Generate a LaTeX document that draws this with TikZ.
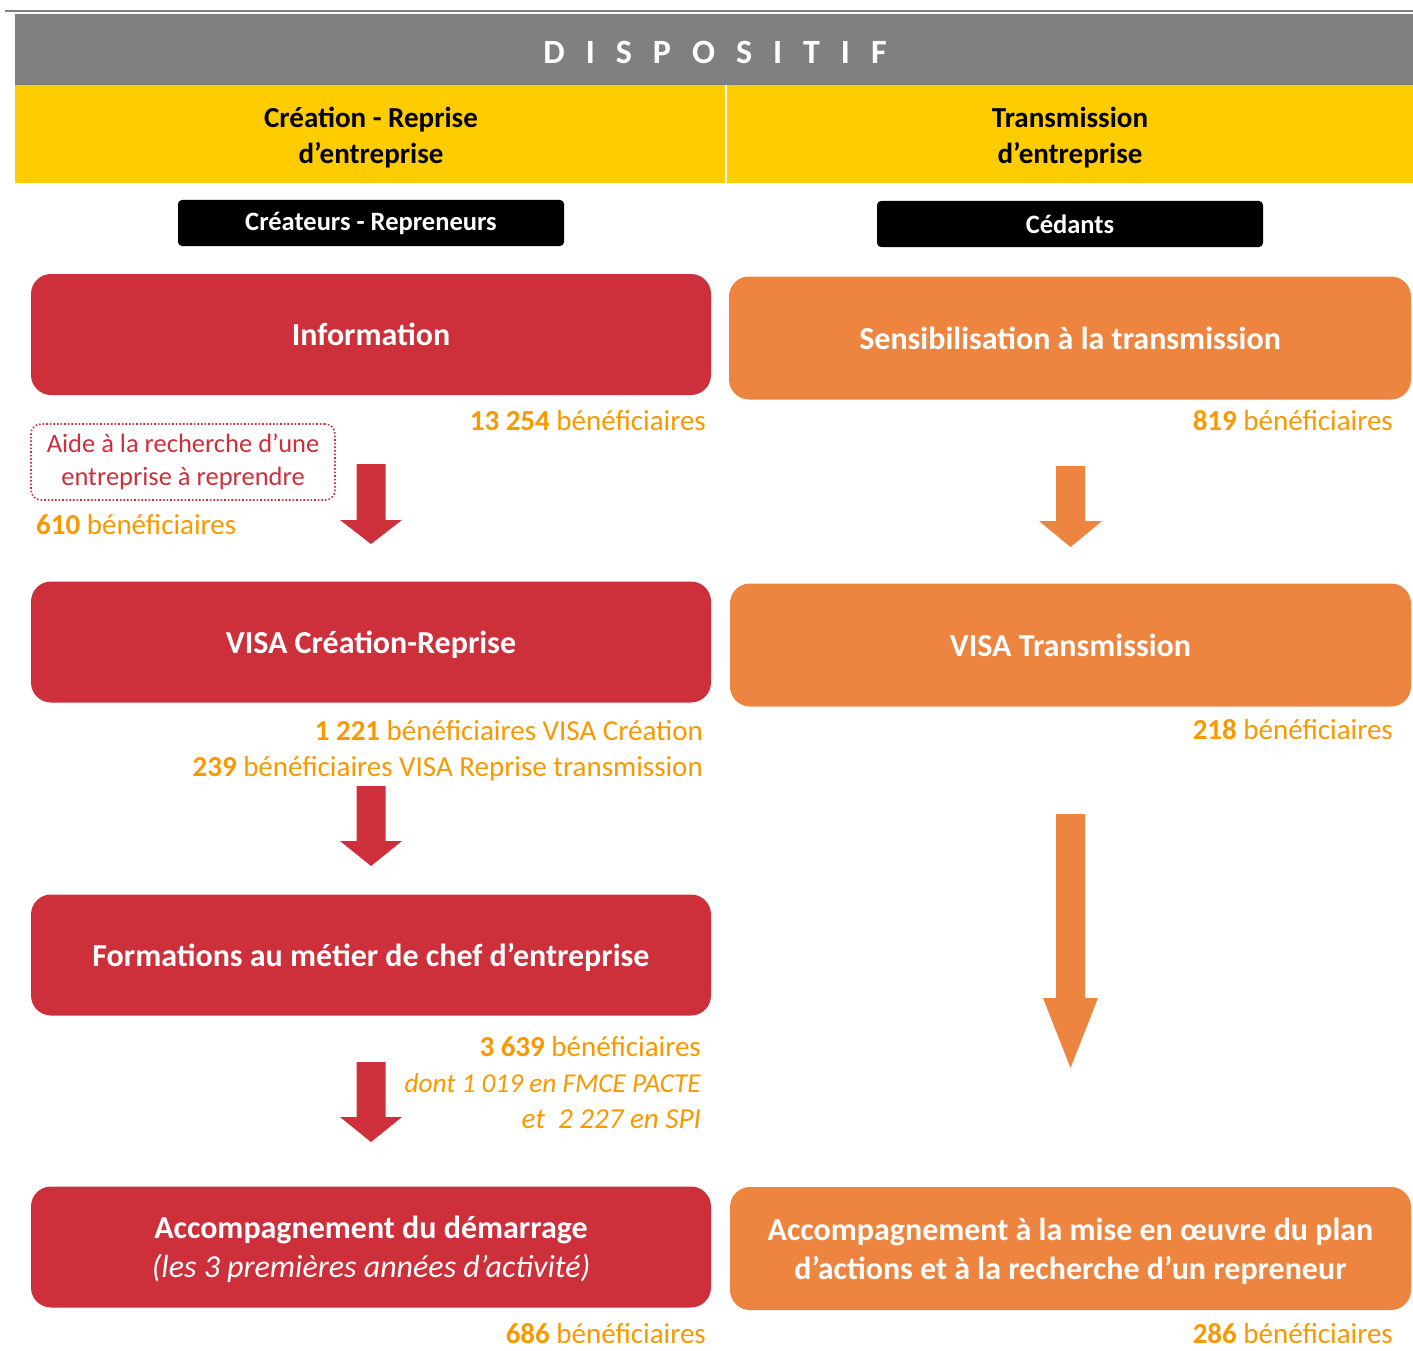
\documentclass[tikz,border=0pt]{standalone}
\usepackage{fontspec}
\setmainfont{Carlito}
\definecolor{hdgray}{RGB}{128,128,128}
\definecolor{hdyellow}{RGB}{255,204,0}
\definecolor{boxred}{RGB}{205,47,59}
\definecolor{boxorange}{RGB}{237,132,64}
\definecolor{numorange}{RGB}{250,152,0}
\newcommand\blockdown[7]{%
  \fill[#1] (#2-#6,#3) -- (#2+#6,#3) -- (#2+#6,#4) -- (#2+#7,#4) -- (#2,#5)
    -- (#2-#7,#4) -- (#2-#6,#4) -- cycle;}
\tikzset{
  stagebox/.style={rounded corners=20pt, text=white, align=center, inner sep=0pt,
    text depth=0pt, font=\fontsize{32}{39}\selectfont\bfseries},
  redbox/.style={stagebox, fill=boxred, minimum width=680pt, minimum height=121pt},
  orangebox/.style={stagebox, fill=boxorange, minimum width=682pt, minimum height=123pt},
  tagbox/.style={fill=black, rounded corners=4pt, minimum width=386pt, minimum height=46pt,
    inner sep=0pt, text=white, font=\fontsize{26.5}{32}\selectfont\bfseries},
  headtext/.style={align=center, inner sep=0pt, font=\fontsize{29}{36}\selectfont\bfseries},
  stat/.style={text=numorange, inner sep=0pt, anchor=base east, font=\fontsize{29}{36}\selectfont},
  statl/.style={stat, anchor=base west},
}
\begin{document}
\begin{tikzpicture}[x=1pt, y=-1pt]
\useasboundingbox (0,0) rectangle (1413,1351);
% header
\draw[hdgray, line width=2.5pt] (5,11) -- (1413,11);
\fill[hdgray] (15,14.5) rectangle (1413,85.5);
\node[text=white, inner sep=0pt, font=\fontsize{34}{40}\selectfont\bfseries] (title) at (715,52)
  {\spaceskip=21pt\relax D I S P O S I T I F};
\fill[hdyellow] (15,85.5) rectangle (1413,183);
\draw[white, line width=2pt] (726,85.5) -- (726,183);
\node[headtext] (hleft) at (371,138) {Création - Reprise\\d’entreprise};
\node[headtext] (hright) at (1070,138) {Transmission\\d’entreprise};
% tags
\node[tagbox] (tleft) at (371,223) {Créateurs - Repreneurs};
\node[tagbox] (tright) at (1070,224) {Cédants};
% left column
\node[redbox] (info) at (371,334.5) {Information};
\node[redbox] (visa) at (371,642) {VISA Création-Reprise};
\node[redbox] (form) at (371,955) {Formations au métier de chef d’entreprise};
\node[redbox] (accd) at (371,1247) {Accompagnement du démarrage\\{\mdseries\itshape (les 3 premières années d’activité)}};
% right column
\node[orangebox] (sens) at (1070,338) {Sensibilisation à la transmission};
\node[orangebox, minimum width=681pt] (visat) at (1070.5,645) {VISA Transmission};
\node[orangebox, minimum width=681pt] (acct) at (1070.5,1248.5) {Accompagnement à la mise en œuvre du plan\\d’actions et à la recherche d’un repreneur};
% dotted box
\node[draw=boxred, dotted, line width=1.6pt, rounded corners=10pt, minimum width=304pt,
  minimum height=76pt, inner sep=0pt, text=boxred, align=center,
  font=\fontsize{26.5}{33}\selectfont] (aide) at (183,462) {Aide à la recherche d’une\\entreprise à reprendre};
% statistics
\node[stat] (s1) at (706,430) {\textbf{13 254} bénéficiaires};
\node[statl] (s2) at (36,534) {\textbf{610} bénéficiaires};
\node[stat] (s3) at (703,740) {\textbf{1 221} bénéficiaires VISA Création};
\node[stat] (s4) at (703,776) {\textbf{239} bénéficiaires VISA Reprise transmission};
\node[stat] (s5) at (701,1056) {\textbf{3 639} bénéficiaires};
\node[stat, font=\fontsize{27.3}{36}\selectfont] (s6) at (701,1092) {\itshape dont 1 019 en FMCE PACTE};
\node[stat] (s7) at (701,1128) {\itshape et~~2 227 en SPI};
\node[stat] (s8) at (706,1343) {\textbf{686} bénéficiaires};
\node[stat] (r1) at (1393,430) {\textbf{819} bénéficiaires};
\node[stat] (r2) at (1393,739) {\textbf{218} bénéficiaires};
\node[stat] (r3) at (1393,1343) {\textbf{286} bénéficiaires};
% block arrows
\blockdown{boxred}{371}{464}{520}{544}{14.5}{31}
\blockdown{boxred}{371}{786}{841}{866}{14.5}{31}
\blockdown{boxred}{371}{1062}{1117}{1142}{14.5}{31}
\blockdown{boxorange}{1070.5}{466}{521}{547}{14.5}{31.5}
\blockdown{boxorange}{1070.5}{814}{998}{1068}{14.5}{27.5}
\end{tikzpicture}
\end{document}
